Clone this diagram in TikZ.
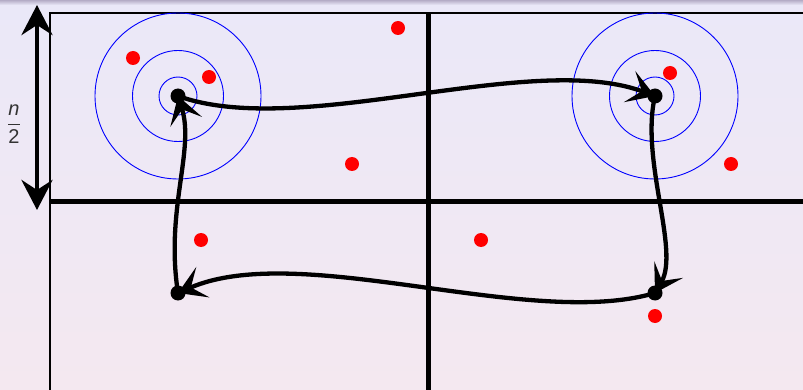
\documentclass[tikz,border=0pt]{standalone}
\usepackage{fontspec}
\newfontfamily\labfont{Liberation Sans}
\usetikzlibrary{arrows.meta}
\definecolor{bgtop}{RGB}{234,232,248}
\definecolor{bgbot}{RGB}{244,232,240}
\definecolor{barc}{RGB}{180,172,198}
\begin{document}
\begin{tikzpicture}[x=1pt,y=-1pt,
  bdot/.style={circle,fill=black,minimum size=15pt,inner sep=0pt},
  rdot/.style={circle,fill=red,minimum size=14pt,inner sep=0pt},
  ring/.style={circle,draw=blue,line width=0.9pt,inner sep=0pt},
  move/.style={line width=4.3pt,-{Stealth[length=27pt,width=33pt,inset=13pt]}},
  axis/.style={line width=5pt},
  frame/.style={line width=1.4pt}]
\useasboundingbox (0,0) rectangle (803,390);
\shade[top color=bgtop,bottom color=bgbot] (0,0) rectangle (803,390);
\shade[top color=barc,bottom color=bgtop] (0,0) rectangle (803,5);
% frame and axes
\coordinate (fbl) at (50,390);
\coordinate (ftl) at (50,13);
\coordinate (ftr) at (803,13);
\coordinate (hl) at (50,202);
\coordinate (hr) at (803,202);
\coordinate (vt) at (428,13);
\coordinate (vb) at (428,390);
\draw[frame] (fbl) -- (ftl) -- (ftr);
\draw[axis] (hl) -- (hr);
\draw[axis] (vt) -- (vb);
% size arrow
\coordinate (at) at (37,5);
\coordinate (ab) at (37,210);
\draw[line width=4.6pt,{Stealth[length=30pt,width=31pt,inset=10pt]}-{Stealth[length=30pt,width=31pt,inset=10pt]}] (at) -- (ab);
\node[text=black!80,font=\fontsize{20}{24}\selectfont\labfont,inner sep=0pt] (lbl) at (14,124) {$\displaystyle\frac{\textit{n}}{\textup{2}}$};
% rings
\node[ring,minimum size=38pt] (r1a) at (178,96) {};
\node[ring,minimum size=91pt] (r1b) at (178,96) {};
\node[ring,minimum size=166pt] (r1c) at (178,96) {};
\node[ring,minimum size=38pt] (r2a) at (655,96) {};
\node[ring,minimum size=91pt] (r2b) at (655,96) {};
\node[ring,minimum size=166pt] (r2c) at (655,96) {};
% path
\node[bdot] (a) at (178,96) {};
\node[bdot] (b) at (655,96) {};
\node[bdot] (c) at (655,293) {};
\node[bdot] (d) at (178,293) {};
\draw[move] (a.center) .. controls (300,140) and (530,50) .. (b.center);
\draw[move] (b.center) .. controls (640,160) and (680,250) .. (c.center);
\draw[move] (c.center) .. controls (530,330) and (300,240) .. (d.center);
\draw[move] (d.center) .. controls (165,210) and (195,150) .. (a.center);
% red points
\node[rdot] (q1) at (133,58) {};
\node[rdot] (q2) at (209,77) {};
\node[rdot] (q3) at (398,28) {};
\node[rdot] (q4) at (352,164) {};
\node[rdot] (q5) at (670,73) {};
\node[rdot] (q6) at (731,164) {};
\node[rdot] (q7) at (201,240) {};
\node[rdot] (q8) at (481,240) {};
\node[rdot] (q9) at (655,316) {};
\end{tikzpicture}
\end{document}
